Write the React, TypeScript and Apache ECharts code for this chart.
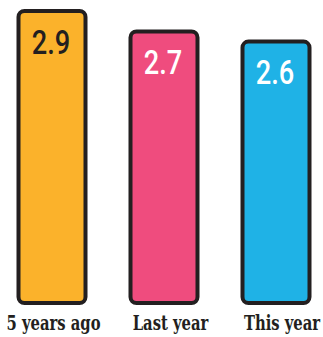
import React, { useEffect, useRef } from "react";
import * as echarts from "echarts";

const categories = ["5 years ago", "Last year", "This year"];
const values = [2.9, 2.7, 2.6];
const barColors = ["#FBB22B", "#EF4C7E", "#1FB2E6"];
const labelColors = ["#231F20", "#FFFFFF", "#FFFFFF"];
const catLabelShift = [1.5, 6.5, 6];

export default function App() {
  const ref = useRef<HTMLDivElement>(null);
  useEffect(() => {
    const chart = echarts.init(ref.current!, null, { renderer: "svg" });
    chart.setOption({
      animation: false,
      grid: { left: -4, width: 336, top: 9, bottom: 32, outerBoundsMode: "none", containLabel: false },
      xAxis: {
        type: "category",
        data: categories,
        axisLine: { show: false },
        axisTick: { show: false },
        axisLabel: { show: false },
      },
      yAxis: { type: "value", min: 0, max: 2.9, show: false, splitLine: { show: false } },
      series: [
        {
          type: "bar",
          barWidth: 71,
          data: values.map((v, i) => ({
            value: v,
            itemStyle: {
              color: barColors[i],
              borderColor: "#231F20",
              borderWidth: 4,
              borderRadius: 6,
            },
          })),
        },
      ],
    });
    const graphics: any[] = [];
    values.forEach((v, i) => {
      const top = chart.convertToPixel({ xAxisIndex: 0, yAxisIndex: 0 }, [i, v]) as number[];
      const base = chart.convertToPixel({ xAxisIndex: 0, yAxisIndex: 0 }, [i, 0]) as number[];
      graphics.push({
        type: "text",
        z: 100,
        x: top[0] - 1,
        y: top[1] + 33,
        scaleX: 0.8,
        style: {
          text: v.toFixed(1),
          align: "center",
          verticalAlign: "middle",
          fontFamily: "Roboto",
          fontWeight: 500,
          fontSize: 34,
          fill: labelColors[i],
        },
      });
      graphics.push({
        type: "text",
        z: 100,
        x: base[0] + catLabelShift[i],
        y: base[1] + 17.5,
        scaleX: 0.74,
        style: {
          text: categories[i],
          align: "center",
          verticalAlign: "middle",
          fontFamily: "DejaVu Serif",
          fontWeight: "bold",
          fontSize: 20,
          fill: "#231F20",
        },
      });
    });
    chart.setOption({ graphic: graphics });
    return () => chart.dispose();
  }, []);
  return (
    <div
      ref={ref}
      style={{ position: "absolute", left: 0, top: 0, width: 323, height: 337 }}
    />
  );
}
